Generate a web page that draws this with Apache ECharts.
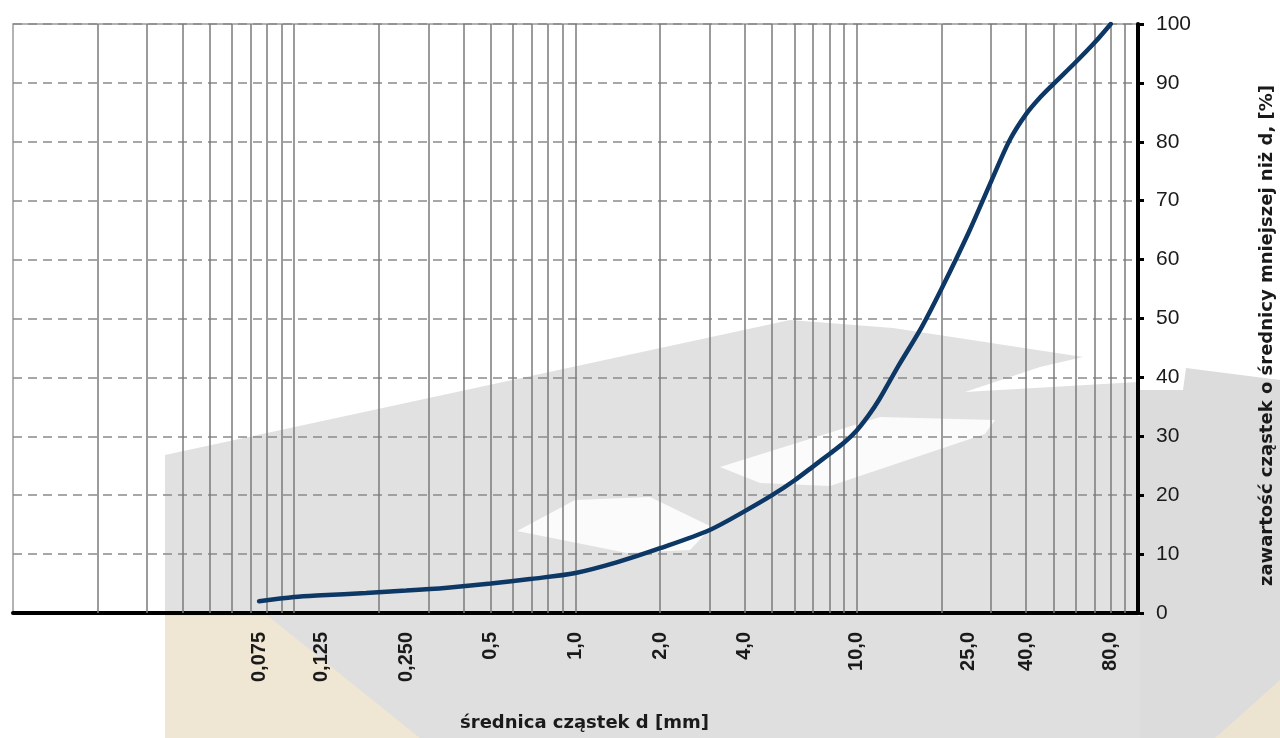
<!DOCTYPE html>
<html>
<head>
<meta charset="utf-8">
<script src="https://cdn.jsdelivr.net/npm/echarts@6/dist/echarts.min.js"></script>
<style>html,body{margin:0;padding:0;background:#fff}#c{width:1280px;height:738px}</style>
</head>
<body>
<div id="c"></div>
<script>
// particle diameter d [mm] and cumulative passing [%]
const diameters = [0.075, 0.1, 0.125, 0.18, 0.25, 0.35, 0.5, 0.7, 1.0, 1.4, 2.0, 3.0, 4.0, 5.0, 6.0, 7.0, 8.0, 9.0, 10.0, 11.0, 12.0, 14.0, 17.0, 20.0, 25.0, 30.0, 35.0, 40.0, 45.0, 50.0, 60.0, 70.0, 80.0];
const passing   = [2.0, 2.7, 3.0, 3.4, 3.8, 4.3, 5.0, 5.8, 6.8, 8.6, 11.0, 14.1, 17.3, 20.0, 22.5, 24.9, 27.0, 28.9, 31.0, 33.5, 36.2, 41.8, 48.5, 55.0, 64.6, 73.2, 80.3, 84.7, 87.6, 89.8, 93.5, 96.8, 100.0];

// labelled sieve sizes on the x axis
const xTickValues = [0.075, 0.125, 0.25, 0.5, 1, 2, 4, 10, 25, 40, 80];
const xTickLabels = ['0,075', '0,125', '0,250', '0,5', '1,0', '2,0', '4,0', '10,0', '25,0', '40,0', '80,0'];

// logarithmic grid lines (1..9 of every decade)
const gridValues = [0.02,0.03,0.04,0.05,0.06,0.07,0.08,0.09,0.1,
                    0.2,0.3,0.4,0.5,0.6,0.7,0.8,0.9,1,
                    2,3,4,5,6,7,8,9,10,
                    20,30,40,50,60,70,80,90];

const chart = echarts.init(document.getElementById('c'));
const FONT = 'Liberation Sans, Arial, sans-serif';
const WIDE = 'DejaVu Sans, sans-serif';

chart.setOption({
  animation: false,
  backgroundColor: '#ffffff',
  graphic: {
    elements: [
      { type: 'polygon', z: -10, silent: true,
        shape: { points: [[165,455],[790,320],[893,328],[1083,357],[1040,367],[965,392],[1138,382],[1138,738],[165,738]] },
        style: { fill: '#e1e1e1' } },
      { type: 'polygon', z: -9, silent: true,
        shape: { points: [[720,467],[880,417],[995,420],[985,434],[830,486],[760,483]] },
        style: { fill: '#fbfbfb' } },
      { type: 'polygon', z: -9, silent: true,
        shape: { points: [[517,531],[575,500],[650,497],[712,527],[690,550],[627,553]] },
        style: { fill: '#fbfbfb' } },
      { type: 'polygon', z: -9, silent: true,
        shape: { points: [[165,616],[1280,616],[1280,738],[165,738]] },
        style: { fill: '#dfdfdf' } },
      { type: 'polygon', z: -8, silent: true,
        shape: { points: [[165,616],[268,616],[420,738],[165,738]] },
        style: { fill: '#efe6d3' } },
      { type: 'polygon', z: -8, silent: true,
        shape: { points: [[1215,738],[1280,680],[1280,738]] },
        style: { fill: '#ece3d0' } },
      { type: 'polygon', z: -9, silent: true,
        shape: { points: [[1140,390],[1183,390],[1186,368],[1280,380],[1280,738],[1140,738]] },
        style: { fill: '#dcdcdc' } }
    ]
  },
  grid: {
    left: 13, right: 142, top: 24, bottom: 125,
    containLabel: false, outerBoundsMode: 'none',
    show: true, borderColor: '#9a9a9a', borderWidth: 1.5, backgroundColor: 'transparent'
  },
  xAxis: {
    type: 'log', logBase: 10, min: 0.01, max: 100,
    name: 'średnica cząstek d [mm]',
    nameLocation: 'middle', nameGap: 101,
    nameTextStyle: { fontFamily: WIDE, fontWeight: 'bold', fontSize: 18, color: '#1a1a1a', padding: [0, 0, 0, 18] },
    axisLine: { show: true, onZero: false, lineStyle: { color: '#000', width: 4 } },
    axisTick: { show: false },
    splitLine: { show: false },
    axisLabel: {
      customValues: xTickValues,
      rotate: 90, margin: 19,
      fontFamily: FONT, fontWeight: 'bold', fontSize: 20, color: '#1a1a1a',
      formatter: function (v) {
        for (let i = 0; i < xTickValues.length; i++) {
          if (Math.abs(xTickValues[i] - v) < 1e-9 * Math.max(1, v)) return xTickLabels[i];
        }
        return '';
      }
    }
  },
  yAxis: {
    type: 'value', position: 'right', min: 0, max: 100, interval: 10,
    name: 'zawartość cząstek o średnicy mniejszej niż d, [%]',
    nameLocation: 'middle', nameRotate: 90, nameGap: 120,
    nameTextStyle: { fontFamily: WIDE, fontWeight: 'bold', fontSize: 18, color: '#1a1a1a', padding: [0, 34, 0, 0] },
    axisLine: { show: true, lineStyle: { color: '#000', width: 4 } },
    axisTick: { show: true, inside: false, length: 6, lineStyle: { color: '#000', width: 3 } },
    axisLabel: { margin: 18, fontFamily: FONT, fontSize: 21, color: '#1a1a1a' },
    splitLine: { show: true, lineStyle: { color: '#8a8a8a', width: 1.5, type: [9, 6] } }
  },
  series: [
    {
      type: 'line', data: [], z: 1, silent: true,
      markLine: {
        silent: true, symbol: ['none', 'none'], animation: false,
        label: { show: false },
        lineStyle: { color: '#7a7a7a', width: 1.5, type: 'solid' },
        data: gridValues.map(v => ({ xAxis: v }))
      }
    },
    {
      type: 'line', z: 5,
      data: diameters.map((d, i) => [d, passing[i]]),
      smooth: 0.3, symbol: 'none',
      lineStyle: { color: '#0d3866', width: 4.5, cap: 'round' }
    }
  ]
});
</script>
</body>
</html>
